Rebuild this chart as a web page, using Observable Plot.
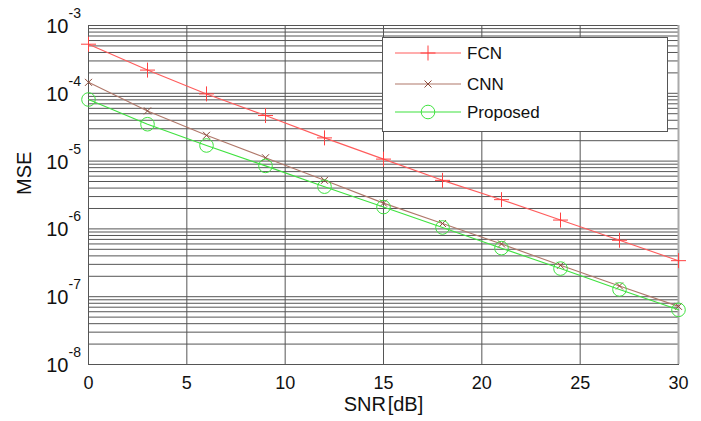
<!DOCTYPE html>
<html>
<head>
<meta charset="utf-8">
<script src="https://cdn.jsdelivr.net/npm/d3@7"></script>
<script src="https://cdn.jsdelivr.net/npm/@observablehq/plot@0.6"></script>
<style>
  body { margin: 0; background: #fff; }
  #wrap { position: relative; width: 701px; height: 421px; font-family: "Liberation Sans", Arial, sans-serif; }
  #legend { position: absolute; left: 382px; top: 37px; width: 284px; height: 93px; background: #fff; border: 1px solid #555; }
</style>
</head>
<body>
<div id="wrap"></div>
<script>
// ---- data ----
const snr = [0, 3, 6, 9, 12, 15, 18, 21, 24, 27, 30];
const fcn = [5.3e-4, 2.2e-4, 9.8e-5, 4.7e-5, 2.2e-5, 1.07e-5, 5.2e-6, 2.7e-6, 1.35e-6, 6.8e-7, 3.4e-7];
const cnn = [1.45e-4, 5.5e-5, 2.4e-5, 1.12e-5, 5.2e-6, 2.4e-6, 1.2e-6, 6.0e-7, 2.9e-7, 1.44e-7, 7.2e-8];
const proposed = [8.1e-5, 3.5e-5, 1.7e-5, 8.5e-6, 4.2e-6, 2.1e-6, 1.05e-6, 5.2e-7, 2.6e-7, 1.28e-7, 6.4e-8];
const seriesNames = ["FCN", "CNN", "Proposed"];
const xTicks = [0, 5, 10, 15, 20, 25, 30];
const yExponents = [-3, -4, -5, -6, -7, -8];

const colors = { FCN: "#ff5c5c", CNN: "#b0786a", Proposed: "#3fe23f" };
const markerColors = { FCN: "#ff4040", CNN: "#8b4a3a", Proposed: "#3fe23f" };

// custom stroke symbols
const plusSym = { draw(c) { const h = 7.5; c.moveTo(-h, 0); c.lineTo(h, 0); c.moveTo(0, -h); c.lineTo(0, h); } };
const timesSym = { draw(c) { const h = 3.5; c.moveTo(-h, -h); c.lineTo(h, h); c.moveTo(-h, h); c.lineTo(h, -h); } };
const circleSym = { draw(c) { const r = 6.8; c.moveTo(r, 0); c.arc(0, 0, r, 0, 2 * Math.PI); } };
const symbols = { FCN: plusSym, CNN: timesSym, Proposed: circleSym };

const rows = (name, vals) => snr.map((s, i) => ({ snr: s, mse: vals[i], series: name }));
const data = { FCN: rows("FCN", fcn), CNN: rows("CNN", cnn), Proposed: rows("Proposed", proposed) };

const minor = [];
for (let k = -8; k <= -4; k++) for (let m = 1; m <= 9; m++) minor.push(m * Math.pow(10, k));
const yTickVals = yExponents.map(e => Math.pow(10, e));

const font = "Liberation Sans, Arial, sans-serif";

const marks = [
  Plot.ruleY(minor, { stroke: "#555", strokeWidth: 1 }),
  Plot.ruleX(xTicks.slice(1, -1), { stroke: "#555", strokeWidth: 1 }),
  Plot.frame({ stroke: "#555" }),
  Plot.ruleX([30], { stroke: "#aaa", strokeWidth: 2 }),
  Plot.axisX(xTicks, { tickSize: 0, tickPadding: 12, fontSize: 18, label: null, fill: "#111" }),
  Plot.text(yTickVals, { y: d => d, frameAnchor: "left", text: () => "10", textAnchor: "end", dx: -20, dy: 1, fontSize: 20, fill: "#111" }),
  Plot.text(yExponents, { y: d => Math.pow(10, d), frameAnchor: "left", text: d => String(d), textAnchor: "start", dx: -20, dy: -12, fontSize: 14, fill: "#111" }),
  Plot.text(["SNR\u200A[dB]"], { frameAnchor: "bottom", dy: 46, fontSize: 20, fill: "#111" }),
  Plot.text(["MSE"], { frameAnchor: "left", dx: -64, rotate: -90, fontSize: 20, fill: "#111" })
];
for (const name of seriesNames) {
  marks.push(Plot.line(data[name], { x: "snr", y: "mse", stroke: colors[name], strokeWidth: 1.1 }));
  marks.push(Plot.dot(data[name], { x: "snr", y: "mse", symbol: symbols[name], stroke: markerColors[name], strokeWidth: 1, fill: "none" }));
}

const chart = Plot.plot({
  width: 701,
  height: 421,
  marginLeft: 88,
  marginRight: 23,
  marginTop: 25,
  marginBottom: 57,
  style: { fontFamily: font, background: "#fff" },
  x: { domain: [0, 30], axis: null },
  y: { type: "log", domain: [1e-8, 1e-3], axis: null },
  marks
});
const wrap = document.getElementById("wrap");
wrap.appendChild(chart);

// legend
const legend = document.createElement("div");
legend.id = "legend";
const ns = "http://www.w3.org/2000/svg";
const svg = document.createElementNS(ns, "svg");
svg.setAttribute("width", 284);
svg.setAttribute("height", 93);
const legendRows = [15, 46, 74];
seriesNames.forEach((name, i) => {
  const y = legendRows[i];
  const line = document.createElementNS(ns, "line");
  line.setAttribute("x1", 12); line.setAttribute("x2", 78);
  line.setAttribute("y1", y); line.setAttribute("y2", y);
  line.setAttribute("stroke", colors[name]); line.setAttribute("stroke-width", 1.1);
  svg.appendChild(line);
  const p = document.createElementNS(ns, "path");
  const path = d3.path();
  symbols[name].draw(path);
  p.setAttribute("d", path.toString());
  p.setAttribute("transform", `translate(45,${y})`);
  p.setAttribute("fill", "none");
  p.setAttribute("stroke", markerColors[name]);
  svg.appendChild(p);
  const t = document.createElementNS(ns, "text");
  t.setAttribute("x", 84); t.setAttribute("y", y);
  t.setAttribute("dy", "0.35em");
  t.setAttribute("font-size", 17);
  t.setAttribute("font-family", font);
  t.setAttribute("fill", "#111");
  t.textContent = name;
  svg.appendChild(t);
});
legend.appendChild(svg);
wrap.appendChild(legend);
</script>
</body>
</html>
